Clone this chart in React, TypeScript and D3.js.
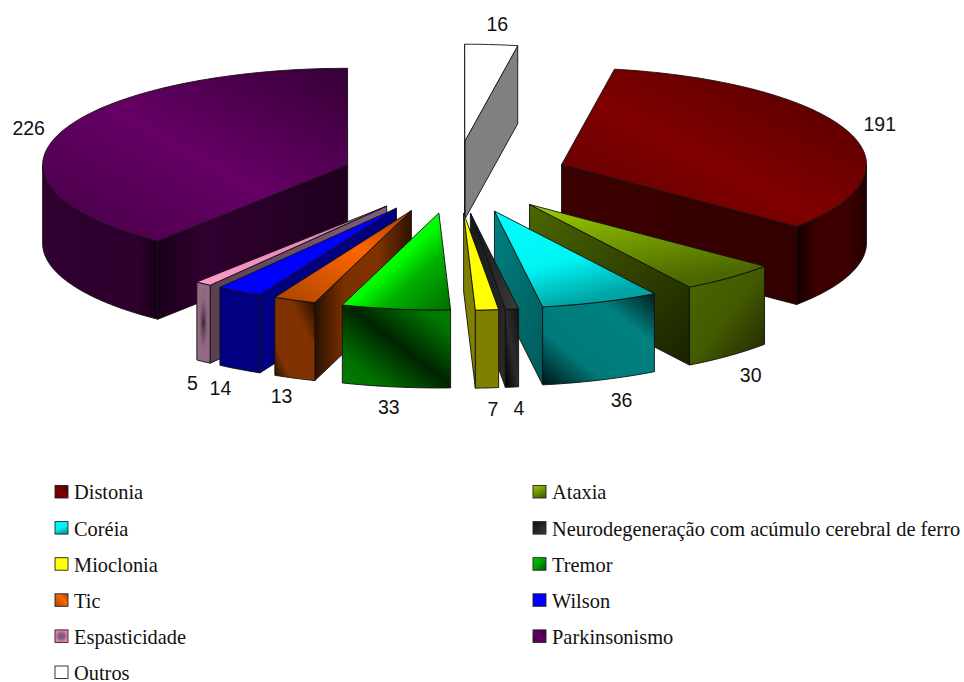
import React from "react";
import * as d3 from "d3";

// Patient counts per movement disorder, in slice order.
const categories = [
  "Distonia",
  "Ataxia",
  "Coréia",
  "Neurodegeneração com acúmulo cerebral de ferro",
  "Mioclonia",
  "Tremor",
  "Tic",
  "Wilson",
  "Espasticidade",
  "Parkinsonismo",
  "Outros",
];
const counts = [191, 30, 36, 4, 7, 33, 13, 14, 5, 226, 16];

// Projected pie geometry.
const WIDTH = 964;
const HEIGHT = 682;
const CENTER_X = 454.9;
const CENTER_Y = 177.2;
const RADIUS_X = 305;
const RADIUS_Y = 97;
const DEPTH = 78;
const EXPLODE = 0.3725;
const FIRST_ANGLE = (10 * Math.PI) / 180;

const xScale = d3.scaleLinear().domain([-1, 1]).range([CENTER_X - RADIUS_X, CENTER_X + RADIUS_X]);
const yScale = d3.scaleLinear().domain([-1, 1]).range([CENTER_Y - RADIUS_Y, CENTER_Y + RADIUS_Y]);

type Stop = [number, string];
type Grad = { v: [number, number, number, number]; s: Stop[]; radial?: boolean };
type Look = { top: Grad; wall: Grad; rim: Grad };

const g = (v: [number, number, number, number], ...s: Stop[]): Grad => ({ v, s });
const blob = (...s: Stop[]): Grad => ({ v: [0, 0, 1, 1], s, radial: true });
const UP = [0, 1, 1, 0] as [number, number, number, number];
const DOWN = [0, 0, 1, 1] as [number, number, number, number];
const ACROSS = [0, 0, 1, 0] as [number, number, number, number];

const looks: Look[] = [
  {
    top: g(UP, [0, "#5c0000"], [0.45, "#800000"], [1, "#4e0000"]),
    wall: g(ACROSS, [0, "#3c0000"], [1, "#320000"]),
    rim: g(ACROSS, [0, "#140000"], [0.3, "#3c0000"], [0.75, "#3c0000"], [1, "#220000"]),
  },
  {
    top: g([0, 0, 0.5, 1], [0, "#9ccf00"], [1, "#4c6600"]),
    wall: g(DOWN, [0, "#4c6600"], [1, "#192100"]),
    rim: g(DOWN, [0, "#4c6600"], [0.5, "#445a00"], [1, "#1c2600"]),
  },
  {
    top: g([0, 0, 0.4, 1], [0, "#00ffff"], [0.6, "#00f4f4"], [1, "#00a4a4"]),
    wall: g(DOWN, [0, "#008080"], [1, "#005a5a"]),
    rim: g(UP, [0, "#001414"], [0.3, "#007a7a"], [0.72, "#008080"], [1, "#001e1e"]),
  },
  {
    top: g(DOWN, [0, "#111111"], [1, "#3a3a3a"]),
    wall: g(DOWN, [0, "#1a1a1a"], [1, "#2a2a2a"]),
    rim: g(UP, [0, "#000000"], [0.5, "#2c2c2c"], [1, "#111111"]),
  },
  {
    top: g(DOWN, [0, "#ffff00"], [1, "#ffff00"]),
    wall: g(DOWN, [0, "#808000"], [1, "#808000"]),
    rim: g(DOWN, [0, "#808000"], [1, "#808000"]),
  },
  {
    top: g([0.5, 0.5, 1, 1], [0, "#00ff00"], [0.35, "#00b000"], [1, "#006c00"]),
    wall: g(DOWN, [0, "#008000"], [1, "#004000"]),
    rim: g(UP, [0, "#008000"], [0.2, "#007000"], [0.52, "#002400"], [0.85, "#007800"], [1, "#008000"]),
  },
  {
    top: g(UP, [0, "#a84300"], [0.6, "#ff6600"], [1, "#9c3e00"]),
    wall: g(ACROSS, [0, "#2a1000"], [0.3, "#7a3000"], [0.65, "#803300"], [1, "#2e1200"]),
    rim: g(UP, [0, "#1e0b00"], [0.22, "#803300"], [0.68, "#803300"], [1, "#1e0b00"]),
  },
  {
    top: g(DOWN, [0, "#0000ff"], [1, "#0000ff"]),
    wall: g(DOWN, [0, "#000080"], [1, "#000080"]),
    rim: g(DOWN, [0, "#000080"], [1, "#000080"]),
  },
  {
    top: g(UP, [0, "#ff99cc"], [0.6, "#e58ab6"], [1, "#996688"]),
    wall: g(ACROSS, [0, "#5a4050"], [1, "#80607a"]),
    rim: blob([0, "#2d2028"], [0.22, "#5e4656"], [0.6, "#8f6580"], [1, "#966a86"]),
  },
  {
    top: g(UP, [0, "#440044"], [0.5, "#660066"], [1, "#360036"]),
    wall: g(ACROSS, [0, "#1a001a"], [0.25, "#300030"], [1, "#1e001e"]),
    rim: g(ACROSS, [0, "#300030"], [0.8, "#2e002e"], [1, "#180018"]),
  },
  {
    top: g(DOWN, [0, "#ffffff"], [1, "#ffffff"]),
    wall: g(DOWN, [0, "#808080"], [1, "#808080"]),
    rim: g(DOWN, [0, "#808080"], [1, "#808080"]),
  },
];

// Two legend swatches use fills of their own.
const swatchFills: Record<string, Grad> = {
  Espasticidade: blob([0, "#75566c"], [0.45, "#8e5f80"], [1, "#ef86bb"]),
  Tremor: g(DOWN, [0, "#00d000"], [0.5, "#00a000"], [1, "#005000"]),
};

// Offset of each value label from its slice's outer edge.
const labelNudges: [number, number][] = [
  [32, -7],
  [21, 19],
  [21, 20],
  [7, 21],
  [6, 21],
  [-7, 20],
  [-13, 18],
  [-19, 19],
  [-11, 21],
  [-31, -5],
  [6, -21],
];

// Legend rows read down the left column, then the right one.
const LEGEND_COLUMNS = [55, 533];
const LEGEND_TOP = 485.5;
const LEGEND_ROW = 36.1;

const pieLayout = d3
  .pie<number>()
  .sort(null)
  .startAngle(FIRST_ANGLE)
  .endAngle(FIRST_ANGLE + 2 * Math.PI);

const slices = pieLayout(counts).map((arc, i) => {
  const mid = (arc.startAngle + arc.endAngle) / 2;
  return {
    i,
    mid,
    a0: arc.startAngle,
    a1: arc.endAngle,
    du: EXPLODE * Math.sin(mid),
    dv: -EXPLODE * Math.cos(mid),
  };
});
type Slice = (typeof slices)[number];

// Screen position of a point on the slice's rim (or its apex when r is 0).
const project = (s: Slice, a: number, r = 1, drop = 0): [number, number] => [
  xScale(s.du + r * Math.sin(a)),
  yScale(s.dv - r * Math.cos(a)) + drop,
];

const trace = d3.line<[number, number]>();

const arcPoints = (s: Slice, from: number, to: number, drop = 0) => {
  const n = Math.max(2, Math.ceil(Math.abs(to - from) / 0.02));
  return d3.range(n + 1).map((k) => project(s, from + ((to - from) * k) / n, 1, drop));
};

const topPath = (s: Slice) =>
  trace([project(s, 0, 0), ...arcPoints(s, s.a0, s.a1)])! + "Z";

const wallPath = (s: Slice, a: number) =>
  trace([
    project(s, 0, 0),
    project(s, a),
    project(s, a, 1, DEPTH),
    project(s, 0, 0, DEPTH),
  ])! + "Z";

const rimPath = (s: Slice, from: number, to: number) =>
  trace([...arcPoints(s, from, to), ...arcPoints(s, to, from, DEPTH)])! + "Z";

const gradDef = (id: string, grad: Grad) => {
  const stops = grad.s.map(([offset, color]) => (
    <stop key={offset} offset={offset} stopColor={color} />
  ));
  return grad.radial ? (
    <radialGradient key={id} id={id} cx={0.5} cy={0.5} r={0.5}>
      {stops}
    </radialGradient>
  ) : (
    <linearGradient key={id} id={id} x1={grad.v[0]} y1={grad.v[1]} x2={grad.v[2]} y2={grad.v[3]}>
      {stops}
    </linearGradient>
  );
};

const STROKE = { stroke: "#111", strokeWidth: 0.9, strokeLinejoin: "round" as const };

function SliceBody({ s }: { s: Slice }) {
  const half = Math.PI / 2;
  const rimFrom = Math.max(s.a0, half);
  const rimTo = Math.min(s.a1, 3 * half);
  return (
    <g>
      {Math.sin(s.a1) > 0 && <path d={wallPath(s, s.a1)} fill={`url(#wall${s.i})`} {...STROKE} />}
      {Math.sin(s.a0) < 0 && <path d={wallPath(s, s.a0)} fill={`url(#wall${s.i})`} {...STROKE} />}
      {rimTo > rimFrom && <path d={rimPath(s, rimFrom, rimTo)} fill={`url(#rim${s.i})`} {...STROKE} />}
      <path d={topPath(s)} fill={`url(#top${s.i})`} {...STROKE} />
    </g>
  );
}

function ValueLabel({ s }: { s: Slice }) {
  const front = Math.cos(s.mid) < 0;
  const [x, y] = project(s, s.mid, 1, front ? DEPTH : 0);
  const [dx, dy] = labelNudges[s.i];
  return (
    <text
      x={x + dx}
      y={y + dy}
      dy="0.36em"
      textAnchor="middle"
      fontFamily="'Liberation Sans', sans-serif"
      fontSize={19.5}
      fill="#111"
    >
      {counts[s.i]}
    </text>
  );
}

function Legend() {
  return (
    <g>
      {categories.map((name, i) => {
        const x = LEGEND_COLUMNS[i % 2];
        const y = LEGEND_TOP + LEGEND_ROW * Math.floor(i / 2);
        return (
          <g key={name}>
            <rect
              x={x}
              y={y}
              width={13}
              height={12.5}
              fill={swatchFills[name] ? `url(#swatch-${name})` : `url(#top${i})`}
              stroke="#222"
              strokeWidth={0.9}
            />
            <text
              x={x + 19}
              y={y + 13.9}
              fontFamily="'Liberation Serif', serif"
              fontSize={20.4}
              fill="#111"
            >
              {name}
            </text>
          </g>
        );
      })}
    </g>
  );
}

export default function App() {
  // Paint back to front: slices pointing away from the viewer first.
  const painted = [...slices].sort(
    (p, q) => Math.abs(q.mid - Math.PI) - Math.abs(p.mid - Math.PI),
  );
  return (
    <svg
      width={WIDTH}
      height={HEIGHT}
      viewBox={`0 0 ${WIDTH} ${HEIGHT}`}
      style={{ position: "absolute", left: 0, top: 0, display: "block", background: "#fff" }}
    >
      <defs>
        {looks.map((look, i) => (
          <React.Fragment key={i}>
            {gradDef(`top${i}`, look.top)}
            {gradDef(`wall${i}`, look.wall)}
            {gradDef(`rim${i}`, look.rim)}
          </React.Fragment>
        ))}
        {Object.entries(swatchFills).map(([name, fill]) => gradDef(`swatch-${name}`, fill))}
      </defs>
      {painted.map((s) => (
        <SliceBody key={s.i} s={s} />
      ))}
      {slices.map((s) => (
        <ValueLabel key={s.i} s={s} />
      ))}
      <Legend />
    </svg>
  );
}
